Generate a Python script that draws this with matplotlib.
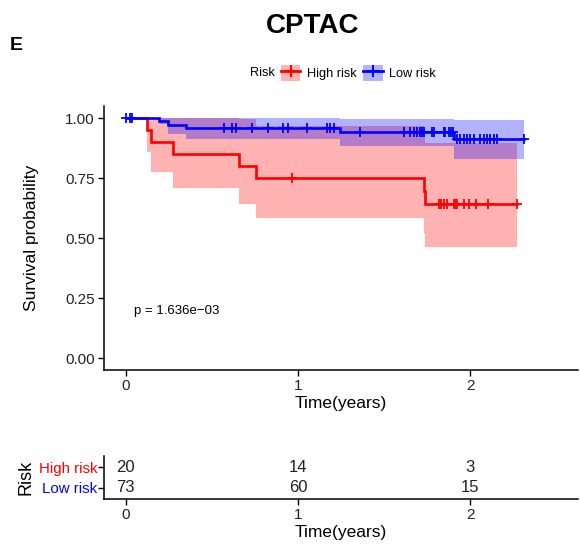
import matplotlib
matplotlib.use("Agg")
import matplotlib.pyplot as plt
import numpy as np
from matplotlib.patches import Patch
from matplotlib.lines import Line2D
from matplotlib.transforms import blended_transform_factory

plt.rcParams['font.family'] = ['Liberation Sans', 'DejaVu Sans']

# ---- data ----
groups = ["High risk", "Low risk"]
colors = ["#FF0000", "#0000FF"]

red_times = [0.0, 0.125, 0.149, 0.274, 0.661, 0.754, 1.729, 1.739]
red_surv = [1.0, 0.95, 0.90, 0.85, 0.80, 0.75, 0.696, 0.642]
red_lower = [1.0, 0.857, 0.776, 0.707, 0.643, 0.582, 0.52, 0.461]
red_upper = [1.0, 1.0, 1.0, 1.0, 0.996, 0.966, 0.93, 0.894]
red_end = 2.271
red_censor = [0.966, 1.816, 1.830, 1.846, 1.865, 1.903, 1.913, 1.923,
              1.961, 1.990, 2.035, 2.101, 2.271]

blue_times = [0.0, 0.193, 0.245, 0.348, 1.243, 1.905]
blue_surv = [1.0, 0.986, 0.972, 0.958, 0.940, 0.912]
blue_lower = [1.0, 0.975, 0.932, 0.914, 0.884, 0.828]
blue_upper = [1.0, 1.0, 1.0, 1.0, 0.996, 0.990]
blue_end = 2.309
blue_censor = [0.0, 0.023, 0.039, 0.570, 0.618, 0.642, 0.734, 0.827, 0.914,
               0.941, 1.053, 1.169, 1.188, 1.208, 1.362, 1.614, 1.652, 1.672,
               1.691, 1.706, 1.720, 1.729, 1.778, 1.791, 1.845, 1.855, 1.874,
               1.888, 1.900, 1.923, 1.942, 1.961, 1.981, 2.000, 2.019, 2.058,
               2.077, 2.097, 2.116, 2.135, 2.155, 2.309]

risk_times = [0, 1, 2]
risk_high = [20, 14, 3]
risk_low = [73, 60, 15]

p_text = "p = 1.636e\u221203"
title = "CPTAC"

# ---- figure ----
W, H = 580, 544
fig = plt.figure(figsize=(W / 100, H / 100), dpi=100)


def fig_rect(l, t, r, b):
    return [l / W, 1 - b / H, (r - l) / W, (b - t) / H]


ax = fig.add_axes(fig_rect(104, 106, 578, 370))

series = [
    (red_times, red_surv, red_lower, red_upper, red_end, red_censor, colors[0]),
    (blue_times, blue_surv, blue_lower, blue_upper, blue_end, blue_censor, colors[1]),
]

for t, s, lo, up, end, cens, c in series:
    x = np.array(t + [end])
    ax.fill_between(x, lo + [lo[-1]], up + [up[-1]], step='post',
                    color=c, alpha=0.3, linewidth=0)

for t, s, lo, up, end, cens, c in series:
    x = np.array(t + [end])
    y = np.array(s + [s[-1]])
    ax.plot(x, y, drawstyle='steps-post', color=c, lw=1.9, solid_joinstyle='miter')
    idx = np.searchsorted(np.array(t), np.array(cens), side='right') - 1
    cy = np.array(s)[idx]
    ax.plot(cens, cy, linestyle='none', marker='+', color=c, ms=7.5, mew=1.3)

ax.set_xlim(-0.125, 2.625)
ax.set_ylim(-0.05, 1.05)
ax.set_xticks([0, 1, 2])
ax.set_yticks([0, 0.25, 0.5, 0.75, 1.0])
ax.set_yticklabels(["0.00", "0.25", "0.50", "0.75", "1.00"])
for sp in ['top', 'right']:
    ax.spines[sp].set_visible(False)
for sp in ['left', 'bottom']:
    ax.spines[sp].set_linewidth(1.1)
ax.tick_params(axis='both', labelsize=11, length=4, width=1, color='black',
               labelcolor='#222222', pad=2.5)
ax.set_xlabel("Time(years)", fontsize=12.5, labelpad=2)
ax.set_ylabel("Survival probability", fontsize=12.5)
ax.yaxis.set_label_coords(39 / W, 0.5,
                          transform=blended_transform_factory(fig.transFigure, ax.transAxes))
ax.text(0.05, 0.196, p_text, fontsize=9.5, ha='left', va='center')

# title & panel letter
fig.text(313 / W, 1 - 26 / H, title, fontsize=20, fontweight='bold', ha='center', va='center')
fig.text(10 / W, 1 - 45 / H, "E", fontsize=14, fontweight='bold', ha='left', va='center')

# legend
fig.text(250 / W, 1 - 73 / H, "Risk", fontsize=9.2, ha='left', va='center')
handles = [(Patch(facecolor=colors[0], alpha=0.3, edgecolor='none'),
            Line2D([], [], color=colors[0], lw=2, marker='+', ms=8, mew=1.4)),
           (Patch(facecolor=colors[1], alpha=0.3, edgecolor='none'),
            Line2D([], [], color=colors[1], lw=2, marker='+', ms=8, mew=1.4))]
fig.legend(handles, groups, loc='center left', bbox_to_anchor=(281 / W, 1 - 73 / H),
           ncol=2, frameon=False, fontsize=9.2, handlelength=1.5, handleheight=1.5,
           handletextpad=0.5, columnspacing=0.55, borderaxespad=0, borderpad=0)

# risk table
axt = fig.add_axes(fig_rect(104, 456, 578, 499))
axt.set_xlim(-0.125, 2.625)
axt.set_ylim(0.476, 2.524)
for xi, nh, nl in zip(risk_times, risk_high, risk_low):
    axt.text(xi, 2, str(nh), ha='center', va='center', fontsize=12, color='#222222')
    axt.text(xi, 1, str(nl), ha='center', va='center', fontsize=12, color='#222222')
axt.set_yticks([2, 1])
axt.set_yticklabels(groups)
for lab, c in zip(axt.get_yticklabels(), colors):
    lab.set_color(c)
axt.set_xticks([0, 1, 2])
for sp in ['top', 'right']:
    axt.spines[sp].set_visible(False)
for sp in ['left', 'bottom']:
    axt.spines[sp].set_linewidth(1.1)
axt.tick_params(axis='y', labelsize=10.8, length=4, width=1, pad=1)
axt.tick_params(axis='x', labelsize=11, length=4, width=1, labelcolor='#222222', pad=2.5)
axt.set_xlabel("Time(years)", fontsize=12.5, labelpad=2)
axt.set_ylabel("Risk", fontsize=13)
axt.yaxis.set_label_coords(35 / W, 0.5,
                           transform=blended_transform_factory(fig.transFigure, axt.transAxes))

fig.savefig("out.png", dpi=100)
